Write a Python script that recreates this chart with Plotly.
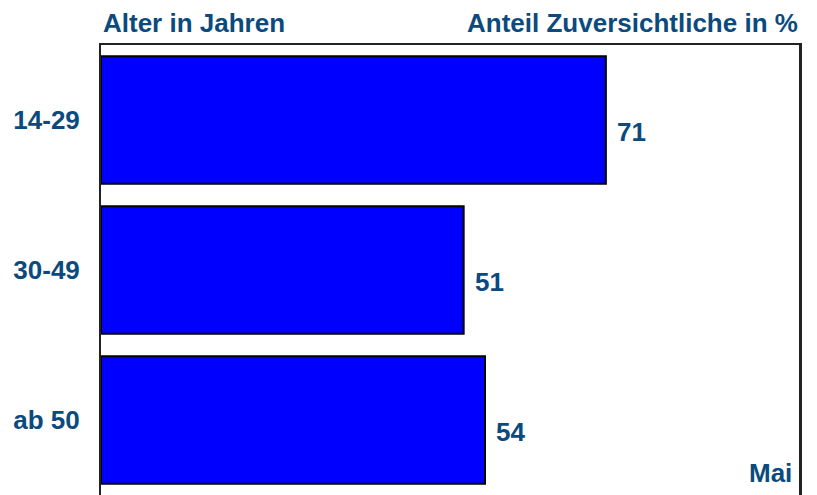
import plotly.graph_objects as go

categories = ["14-29", "30-49", "ab 50"]
values = [71, 51, 54]
value_labels = ["71", "51", "54"]
title_left = "Alter in Jahren"
title_right = "Anteil Zuversichtliche in %"
month_label = "Mai"

TEXT_COLOR = "#0B4A7E"
FONT = "Liberation Sans, Arial, sans-serif"
FS = 26

fig = go.Figure()
fig.add_trace(go.Bar(
    y=categories, x=values, orientation="h",
    marker=dict(color="#0000FF", line=dict(color="#000000", width=2)),
    hoverinfo="skip",
))

annotations = []
for c, v, t in zip(categories, values, value_labels):
    annotations.append(dict(
        x=v, y=c, xref="x", yref="y", text=t, showarrow=False,
        xanchor="left", yanchor="middle", xshift=9, yshift=-12,
        font=dict(family=FONT, size=FS, color=TEXT_COLOR, weight="bold"),
    ))
annotations.append(dict(
    x=0.0, y=1.049, xref="paper", yref="paper", text=title_left, showarrow=False,
    xanchor="left", yanchor="middle",
    font=dict(family=FONT, size=FS, color=TEXT_COLOR, weight="bold"),
))
annotations.append(dict(
    x=1.0, y=1.049, xref="paper", yref="paper", text=title_right, showarrow=False,
    xanchor="right", yanchor="middle",
    font=dict(family=FONT, size=FS, color=TEXT_COLOR, weight="bold"),
))
annotations.append(dict(
    x=0.992, y=0.049, xref="paper", yref="paper", text=month_label, showarrow=False,
    xanchor="right", yanchor="middle",
    font=dict(family=FONT, size=FS, color=TEXT_COLOR, weight="bold"),
))

fig.update_layout(
    width=809, height=495,
    margin=dict(l=93, r=17, t=37, b=8),
    paper_bgcolor="white", plot_bgcolor="white",
    showlegend=False,
    bargap=0.15,
    annotations=annotations,
    shapes=[dict(type="line", xref="paper", yref="paper", x0=1, x1=1, y0=0, y1=1,
                 line=dict(color="#222222", width=2))],
    xaxis=dict(
        range=[0, 98.3], side="top", showline=True, linecolor="#222222", linewidth=2,
        showticklabels=False, ticks="", showgrid=False, zeroline=False, fixedrange=True,
        automargin=False,
    ),
    yaxis=dict(
        type="category", autorange="reversed", showline=True, mirror=True,
        linecolor="#222222", linewidth=2, ticks="", showgrid=False, zeroline=False,
        tickfont=dict(family=FONT, size=FS, color=TEXT_COLOR, weight="bold"),
        ticklabelstandoff=14, automargin=False,
    ),
)

fig.write_html("out.html")
